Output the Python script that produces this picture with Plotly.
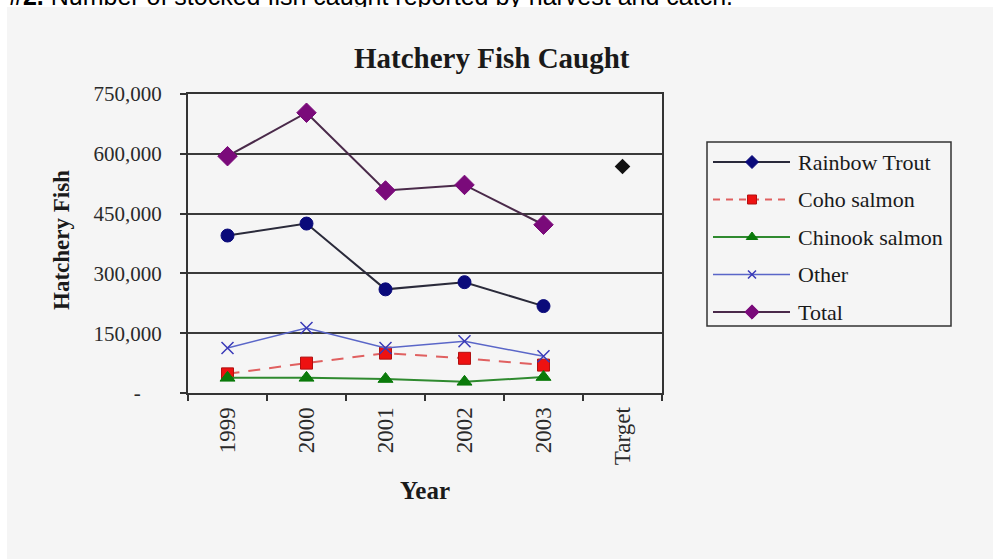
import plotly.graph_objects as go

# ---- data -------------------------------------------------------------
categories = ["1999", "2000", "2001", "2002", "2003", "Target"]
years = ["1999", "2000", "2001", "2002", "2003"]

rainbow_trout = [395000, 425000, 260000, 278000, 218000]
coho_salmon = [48000, 75000, 100000, 87000, 70000]
chinook_salmon = [38000, 38000, 35000, 28000, 40000]
other = [113000, 163000, 113000, 130000, 92000]
total = [594000, 703000, 508000, 522000, 422000]
target_total = [568000]

series_names = ["Rainbow Trout", "Coho salmon", "Chinook salmon", "Other", "Total"]
series_values = [rainbow_trout, coho_salmon, chinook_salmon, other, total]

y_tick_values = [0, 150000, 300000, 450000, 600000, 750000]
y_tick_labels = ["-\u00a0\u00a0\u00a0\u00a0", "150,000", "300,000", "450,000", "600,000", "750,000"]

caption = "<b>#2.</b> Number of stocked fish caught reported by harvest and catch."

# ---- styling ----------------------------------------------------------
W, H = 994, 559
SERIF = "Liberation Serif, Times New Roman, serif"
BG = "#f5f5f5"
INK = "#333333"

styles = {
    "Rainbow Trout": dict(line=dict(color="#2a2a3a", width=2),
                          marker=dict(symbol="circle", size=13, color="#0a0a7a",
                                      line=dict(color="#0a0a7a", width=1)),
                          legend_symbol="diamond", legend_size=10),
    "Coho salmon": dict(line=dict(color="#e06060", width=2, dash="12px,9px"),
                        marker=dict(symbol="square", size=12, color="#ee1111",
                                    line=dict(color="#b01010", width=1)),
                        legend_symbol="square", legend_size=9),
    "Chinook salmon": dict(line=dict(color="#2f8a2f", width=2),
                           marker=dict(symbol="triangle-up", size=13, color="#0a7a0a",
                                       line=dict(color="#0a7a0a", width=1)),
                           legend_symbol="triangle-up", legend_size=10),
    "Other": dict(line=dict(color="#5a66c8", width=1.5),
                  marker=dict(symbol="x-thin-open", size=12, color="#3a3ab8",
                              line=dict(color="#3a3ab8", width=1.5)),
                  legend_symbol="x-thin-open", legend_size=8),
    "Total": dict(line=dict(color="#4a2a4a", width=2),
                  marker=dict(symbol="diamond", size=15, color="#7a0a7a",
                              line=dict(color="#7a0a7a", width=1)),
                  legend_symbol="diamond", legend_size=11),
}


def px_x(p):
    return p / W


def px_y(p):
    return 1 - p / H


fig = go.Figure()

# main series
for name, vals in zip(series_names, series_values):
    st = styles[name]
    fig.add_trace(go.Scatter(
        x=years, y=vals, name=name, mode="lines+markers",
        line=st["line"], marker=st["marker"], cliponaxis=False,
        showlegend=False, xaxis="x", yaxis="y",
    ))

# target value for the total
fig.add_trace(go.Scatter(
    x=["Target"], y=target_total, name="Target", mode="markers",
    marker=dict(symbol="diamond", size=12, color="#111111"),
    cliponaxis=False, showlegend=False, xaxis="x", yaxis="y",
))

# ---- hand-built legend on a pixel-space overlay axis -----------------
leg_left, leg_right, leg_top, leg_bottom = 707, 951, 142, 326
row0, row_step = 162, 37.5
for i, name in enumerate(series_names):
    st = styles[name]
    yy = row0 + i * row_step
    fig.add_trace(go.Scatter(
        x=[713, 790], y=[yy, yy], mode="lines",
        line=dict(st["line"], dash="7px,6px" if name == "Coho salmon" else "solid"),
        showlegend=False, hoverinfo="skip", xaxis="x2", yaxis="y2", cliponaxis=False,
    ))
    fig.add_trace(go.Scatter(
        x=[752], y=[yy], mode="markers",
        marker=dict(st["marker"], symbol=st["legend_symbol"], size=st["legend_size"]),
        showlegend=False, hoverinfo="skip", xaxis="x2", yaxis="y2", cliponaxis=False,
    ))
    fig.add_annotation(
        x=px_x(796), y=px_y(yy), xref="paper", yref="paper",
        xanchor="left", yanchor="middle", showarrow=False, text=name,
        font=dict(family=SERIF, size=22, color="#1a1a1a"),
    )

# page caption, partly running off the top edge
fig.add_trace(go.Scatter(
    x=[9], y=[11], mode="text", text=[caption], textposition="top right",
    textfont=dict(family="Liberation Sans, Arial, sans-serif", size=25, color="#000000"),
    showlegend=False, hoverinfo="skip", xaxis="x2", yaxis="y2", cliponaxis=False,
))

# ---- shapes: panel background, caption mask, legend frame --------------
fig.add_shape(type="rect", xref="paper", yref="paper", layer="below",
              x0=px_x(7), x1=px_x(993), y0=px_y(H + 2), y1=px_y(7),
              fillcolor=BG, line=dict(width=0))
fig.add_shape(type="rect", xref="paper", yref="paper", layer="above",
              x0=px_x(7), x1=px_x(993), y0=px_y(22), y1=px_y(7),
              fillcolor=BG, line=dict(width=0))
fig.add_shape(type="rect", xref="paper", yref="paper", layer="below",
              x0=px_x(leg_left), x1=px_x(leg_right), y0=px_y(leg_bottom), y1=px_y(leg_top),
              fillcolor="rgba(0,0,0,0)", line=dict(color=INK, width=1.5))

# ---- text -----------------------------------------------------------
fig.add_annotation(x=px_x(492), y=px_y(58), xref="paper", yref="paper",
                   xanchor="center", yanchor="middle", showarrow=False,
                   text="<b>Hatchery Fish Caught</b>",
                   font=dict(family=SERIF, size=29, color="#1a1a1a"))
fig.add_annotation(x=px_x(62), y=px_y(240), xref="paper", yref="paper",
                   xanchor="center", yanchor="middle", showarrow=False, textangle=-90,
                   text="<b>Hatchery Fish</b>",
                   font=dict(family=SERIF, size=23, color="#1a1a1a"))
fig.add_annotation(x=px_x(425), y=px_y(490), xref="paper", yref="paper",
                   xanchor="center", yanchor="middle", showarrow=False,
                   text="<b>Year</b>",
                   font=dict(family=SERIF, size=25, color="#1a1a1a"))

# ---- layout ---------------------------------------------------------
plot_l, plot_r, plot_t, plot_b = 188, 662, 94, 393

fig.update_layout(
    width=W, height=H,
    margin=dict(l=0, r=0, t=0, b=0, pad=0, autoexpand=False),
    paper_bgcolor="#ffffff",
    plot_bgcolor="rgba(0,0,0,0)",
    showlegend=False,
    xaxis=dict(
        domain=[px_x(plot_l), px_x(plot_r)],
        type="category", categoryorder="array", categoryarray=categories,
        range=[-0.5, len(categories) - 0.5],
        tickson="boundaries", ticks="outside", ticklen=6, tickwidth=1.5, tickcolor=INK,
        showline=True, linecolor=INK, linewidth=2, mirror=True,
        showgrid=False, zeroline=False, tickangle=-90, ticklabelstandoff=3,
        tickfont=dict(family=SERIF, size=23, color="#2a2a2a"),
        anchor="y", automargin=False,
    ),
    yaxis=dict(
        domain=[px_y(plot_b), px_y(plot_t)],
        range=[0, 750000], tickvals=y_tick_values, ticktext=y_tick_labels,
        ticks="outside", ticklen=6, tickwidth=1.5, tickcolor=INK,
        showline=True, linecolor=INK, linewidth=2, mirror=True,
        showgrid=True, gridcolor="#3a3a3a", gridwidth=2, zeroline=False,
        ticklabelstandoff=14,
        tickfont=dict(family=SERIF, size=21, color="#2a2a2a"),
        anchor="x", automargin=False,
    ),
    xaxis2=dict(domain=[0, 1], range=[0, W], visible=False, anchor="y2",
                fixedrange=True, automargin=False),
    yaxis2=dict(domain=[0, 1], range=[H, 0], visible=False, anchor="x2",
                fixedrange=True, automargin=False),
)

fig.write_html("out.html")
